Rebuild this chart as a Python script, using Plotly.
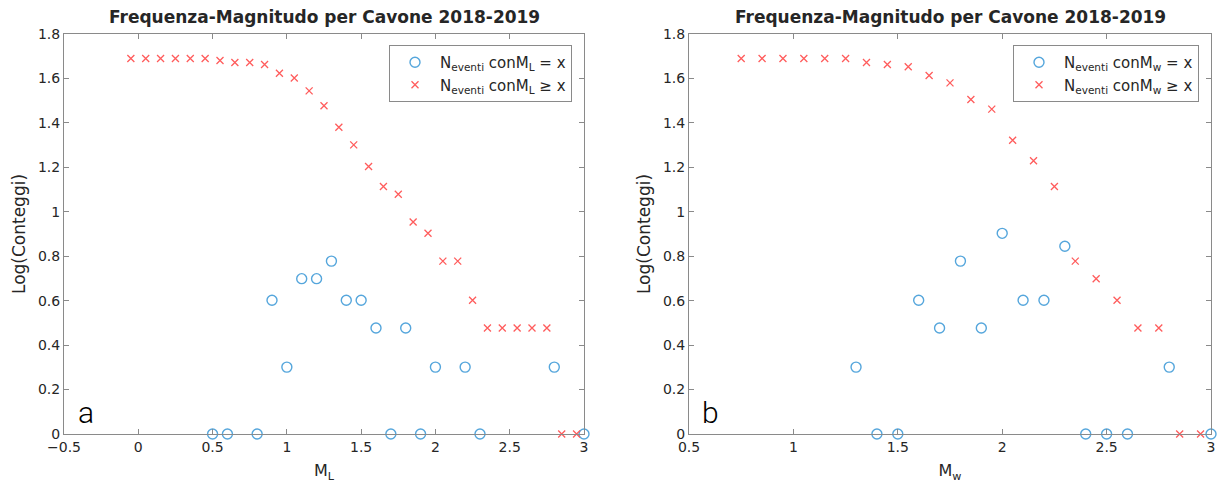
import plotly.graph_objects as go

# ---- data: panel a (ML) ----
ml_eq_x = [0.5, 0.6, 0.8, 0.9, 1.0, 1.1, 1.2, 1.3, 1.4, 1.5, 1.6, 1.7, 1.8, 1.9, 2.0, 2.2, 2.3, 2.8, 3.0]
ml_eq_y = [0, 0, 0, 0.602, 0.301, 0.699, 0.699, 0.778, 0.602, 0.602, 0.477, 0, 0.477, 0, 0.301, 0.301, 0, 0.301, 0]
ml_ge_x = [-0.05, 0.05, 0.15, 0.25, 0.35, 0.45, 0.55, 0.65, 0.75, 0.85, 0.95, 1.05, 1.15, 1.25, 1.35, 1.45,
           1.55, 1.65, 1.75, 1.85, 1.95, 2.05, 2.15, 2.25, 2.35, 2.45, 2.55, 2.65, 2.75, 2.85, 2.95]
ml_ge_y = [1.690, 1.690, 1.690, 1.690, 1.690, 1.690, 1.681, 1.672, 1.672, 1.663, 1.623, 1.602, 1.544, 1.477,
           1.380, 1.301, 1.204, 1.114, 1.079, 0.954, 0.903, 0.778, 0.778, 0.602, 0.477, 0.477, 0.477, 0.477,
           0.477, 0, 0]

# ---- data: panel b (Mw) ----
mw_eq_x = [1.3, 1.4, 1.5, 1.6, 1.7, 1.8, 1.9, 2.0, 2.1, 2.2, 2.3, 2.4, 2.5, 2.6, 2.8, 3.0]
mw_eq_y = [0.301, 0, 0, 0.602, 0.477, 0.778, 0.477, 0.903, 0.602, 0.602, 0.845, 0, 0, 0, 0.301, 0]
mw_ge_x = [0.75, 0.85, 0.95, 1.05, 1.15, 1.25, 1.35, 1.45, 1.55, 1.65, 1.75, 1.85, 1.95, 2.05, 2.15, 2.25,
           2.35, 2.45, 2.55, 2.65, 2.75, 2.85, 2.95]
mw_ge_y = [1.690, 1.690, 1.690, 1.690, 1.690, 1.690, 1.672, 1.663, 1.653, 1.613, 1.580, 1.505, 1.462, 1.322,
           1.230, 1.114, 0.778, 0.699, 0.602, 0.477, 0.477, 0, 0]

title_text = "Frequenza-Magnitudo per Cavone 2018-2019"
y_ticks = [0, 0.2, 0.4, 0.6, 0.8, 1.0, 1.2, 1.4, 1.6, 1.8]
xa_ticks = [-0.5, 0, 0.5, 1, 1.5, 2, 2.5, 3]
xb_ticks = [0.5, 1, 1.5, 2, 2.5, 3]

BLUE = "#55a6dc"
RED = "#ff5c5c"
AXC = "#8a8a8a"
TXT = "#262626"
FONT = "DejaVu Sans"


def leg_name(m, op):
    return "N<sub>eventi</sub> conM<sub>" + m + "</sub> " + op + " x"

fig = go.Figure()
circ = dict(symbol="circle-open", size=10, color=BLUE, line=dict(width=1.4, color=BLUE))
cross = dict(symbol="x-thin-open", size=7, color=RED, line=dict(width=1.3, color=RED))

fig.add_trace(go.Scatter(x=ml_eq_x, y=ml_eq_y, mode="markers", marker=circ, cliponaxis=False,
                         name=leg_name("L", "="), xaxis="x", yaxis="y",
                         legend="legend", legendgroup="a1"))
fig.add_trace(go.Scatter(x=ml_ge_x, y=ml_ge_y, mode="markers", marker=cross, cliponaxis=False,
                         name=leg_name("L", "≥"), xaxis="x", yaxis="y",
                         legend="legend", legendgroup="a2"))
fig.add_trace(go.Scatter(x=mw_eq_x, y=mw_eq_y, mode="markers", marker=circ, cliponaxis=False,
                         name=leg_name("w", "="), xaxis="x2", yaxis="y2",
                         legend="legend2", legendgroup="b1"))
fig.add_trace(go.Scatter(x=mw_ge_x, y=mw_ge_y, mode="markers", marker=cross, cliponaxis=False,
                         name=leg_name("w", "≥"), xaxis="x2", yaxis="y2",
                         legend="legend2", legendgroup="b2"))

W, H = 1223, 485
ydom = [1 - 434 / H, 1 - 34 / H]

def axis_common():
    return dict(showline=True, linecolor=AXC, linewidth=1, mirror="allticks", ticks="inside",
                ticklen=5, tickcolor=AXC, showgrid=False, zeroline=False, automargin=False,
                tickfont=dict(family=FONT, size=14, color=TXT))

def legend_style(xpos):
    return dict(x=xpos, y=1 - 45 / H, xanchor="right", yanchor="top", bgcolor="white",
                bordercolor=AXC, borderwidth=1, font=dict(family=FONT, size=15, color=TXT),
                tracegroupgap=0, itemwidth=40)

fig.update_layout(
    width=W, height=H, margin=dict(l=0, r=0, t=0, b=0),
    paper_bgcolor="white", plot_bgcolor="white",
    font=dict(family=FONT, size=13, color=TXT),
    xaxis=dict(domain=[64 / W, 584 / W], range=[-0.5, 3], tickvals=xa_ticks, anchor="y",
               title=dict(text="M<sub>L</sub>", font=dict(size=16, color=TXT), standoff=11), **axis_common()),
    yaxis=dict(domain=ydom, range=[0, 1.8], tickvals=y_ticks, anchor="x",
               title=dict(text="Log(Conteggi)", font=dict(size=17, color=TXT), standoff=7), **axis_common()),
    xaxis2=dict(domain=[689 / W, 1211 / W], range=[0.5, 3], tickvals=xb_ticks, anchor="y2",
                title=dict(text="M<sub>w</sub>", font=dict(size=16, color=TXT), standoff=11), **axis_common()),
    yaxis2=dict(domain=ydom, range=[0, 1.8], tickvals=y_ticks, anchor="x2",
                title=dict(text="Log(Conteggi)", font=dict(size=17, color=TXT), standoff=7), **axis_common()),
    legend=legend_style(572 / W),
    legend2=legend_style(1199 / W),
    annotations=[
        dict(text="<b>" + title_text + "</b>", xref="x domain", yref="paper", x=0.5, y=1 - 17 / H,
             xanchor="center", yanchor="middle", showarrow=False, font=dict(family=FONT, size=17, color=TXT)),
        dict(text="<b>" + title_text + "</b>", xref="x2 domain", yref="paper", x=0.5, y=1 - 17 / H,
             xanchor="center", yanchor="middle", showarrow=False, font=dict(family=FONT, size=17, color=TXT)),
        dict(text="a", xref="x domain", yref="y domain", x=0.024, y=0.055, xanchor="left", yanchor="middle",
             showarrow=False, font=dict(family="Roboto", size=30, color="#000000", weight=300)),
        dict(text="b", xref="x2 domain", yref="y2 domain", x=0.022, y=0.055, xanchor="left", yanchor="middle",
             showarrow=False, font=dict(family="Roboto", size=30, color="#000000", weight=300)),
    ],
)

fig.write_html("out.html")
